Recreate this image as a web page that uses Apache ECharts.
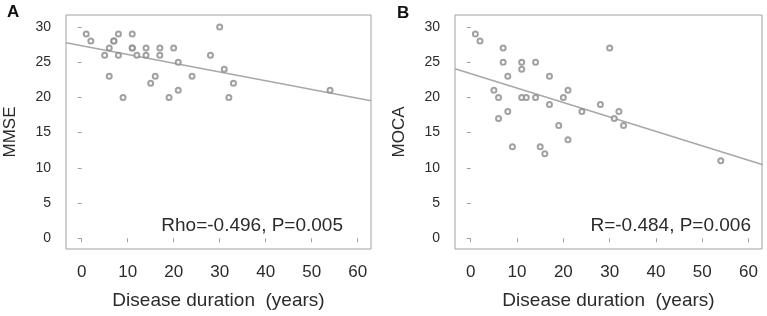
<!DOCTYPE html>
<html>
<head>
<meta charset="utf-8">
<script src="https://cdn.jsdelivr.net/npm/echarts@6/dist/echarts.min.js"></script>
<style>
html,body{margin:0;padding:0;background:#fff;}
#c{width:767px;height:316px;}
</style>
</head>
<body>
<div id="c"></div>
<script>
// Panel A: MMSE vs disease duration
var mmseDuration = [1,2,5,6,6,7,7,8,8,9,11,11,11,12,14,14,15,16,17,17,19,20,21,21,24,28,30,31,32,33,54];
var mmseScore    = [29,28,26,27,23,28,28,29,26,20,29,27,27,26,27,26,22,23,27,26,20,27,25,21,23,26,30,24,20,22,21];
var mmseFit = [[-3.4, 27.77], [62.9, 19.53]];
// Panel B: MOCA vs disease duration
var mocaDuration = [1,2,5,6,6,7,7,8,8,9,11,11,11,12,14,14,15,16,17,17,19,20,21,21,24,28,30,31,32,33,54];
var mocaScore    = [29,28,21,20,17,27,25,23,18,13,25,24,20,20,25,20,13,12,23,19,16,20,21,14,18,19,27,17,18,16,11];
var mocaFit = [[-3.4, 24.08], [63.1, 10.43]];
// Tick labels
var xTicks = [0,10,20,30,40,50,60];
var yTicks = [0,5,10,15,20,25,30];
var xRange = [-3.4, 62.9];
var yRange = [-1.52, 31.7];
var labelA = 'Rho=-0.496, P=0.005';
var labelB = 'R=-0.484, P=0.006';

function zip(a, b) { return a.map(function (v, i) { return [v, b[i]]; }); }

var FONT = '"Liberation Sans", Arial, sans-serif';
var TXT = '#2b2b2b';
var BOX = '#a0a0a0';

function xAx(idx, name) {
  return {
    type: 'value', gridIndex: idx, min: xRange[0], max: xRange[1],
    offset: 1,
    name: name, nameLocation: 'middle', nameGap: 41,
    nameTextStyle: { fontFamily: FONT, fontSize: 19, color: TXT },
    axisLine: { show: false },
    axisTick: { show: true, length: 4, customValues: xTicks, lineStyle: { color: BOX } },
    axisLabel: { customValues: xTicks, margin: 14, fontFamily: FONT, fontSize: 17, color: TXT },
    splitLine: { show: false }
  };
}
function yAx(idx, name) {
  return {
    type: 'value', gridIndex: idx, min: yRange[0], max: yRange[1],
    offset: 2,
    name: name, nameLocation: 'middle', nameGap: 45,
    nameTextStyle: { fontFamily: FONT, fontSize: 17, color: TXT },
    axisLine: { show: false },
    axisTick: { show: true, length: 4, customValues: yTicks, lineStyle: { color: BOX } },
    axisLabel: { customValues: yTicks, margin: 13, fontFamily: FONT, fontSize: 14, color: TXT },
    splitLine: { show: false }
  };
}
function pts(idx, data) {
  return {
    type: 'scatter', xAxisIndex: idx, yAxisIndex: idx, data: data,
    symbol: 'emptyCircle', symbolSize: 5,
    itemStyle: { color: '#8a8a8a', borderWidth: 0.9 },
    silent: true, animation: false, z: 3
  };
}
function fit(idx, data) {
  return {
    type: 'line', xAxisIndex: idx, yAxisIndex: idx, data: data,
    showSymbol: false, symbol: 'none',
    lineStyle: { color: '#a8a8a8', width: 1.6 },
    clip: true, silent: true, animation: false, z: 2
  };
}

var chart = echarts.init(document.getElementById('c'), null, { renderer: 'canvas' });
chart.setOption({
  backgroundColor: '#fff',
  animation: false,
  grid: [
    { left: 66, right: 396, top: 15, bottom: 67, show: true, borderColor: BOX, borderWidth: 1, backgroundColor: 'transparent' },
    { left: 455, right: 5, top: 15, bottom: 67, show: true, borderColor: BOX, borderWidth: 1, backgroundColor: 'transparent' }
  ],
  xAxis: [xAx(0, 'Disease duration  (years)'), xAx(1, 'Disease duration  (years)')],
  yAxis: [yAx(0, 'MMSE'), yAx(1, 'MOCA')],
  series: [
    pts(0, zip(mmseDuration, mmseScore)), fit(0, mmseFit),
    pts(1, zip(mocaDuration, mocaScore)), fit(1, mocaFit)
  ],
  graphic: [
    { type: 'text', left: 7, top: 4, style: { text: 'A', font: 'bold 17px ' + FONT, fill: '#111' } },
    { type: 'text', left: 397, top: 5, style: { text: 'B', font: 'bold 17px ' + FONT, fill: '#111' } },
    { type: 'text', right: 424, top: 216, style: { text: labelA, font: '19px ' + FONT, fill: TXT } },
    { type: 'text', right: 16, top: 216, style: { text: labelB, font: '19px ' + FONT, fill: TXT } }
  ]
});
</script>
</body>
</html>
